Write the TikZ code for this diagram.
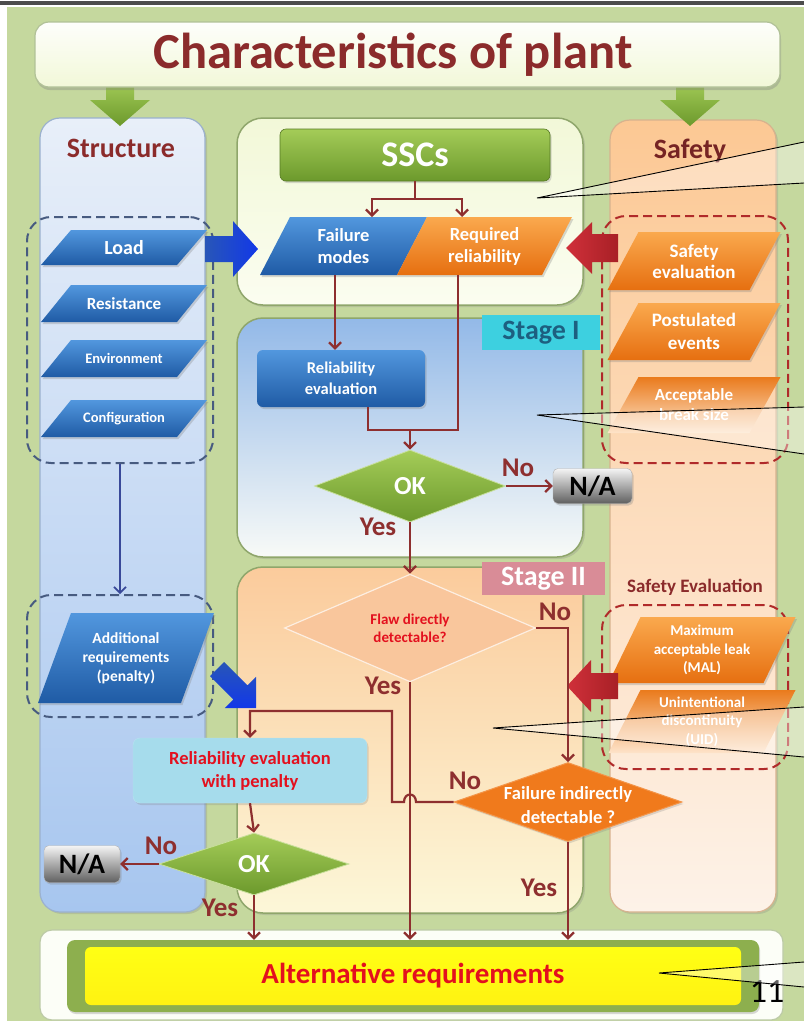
\documentclass[tikz,border=0pt]{standalone}
\usepackage{fontspec}
\setmainfont{Carlito}
\usetikzlibrary{shapes.geometric,arrows.meta,shadows,calc}

\newcommand\fsz[2]{\fontsize{#1}{#2}\selectfont}
% slanted box: name, cx, cy, half width, height, slant, fill style, font, text
\newcommand\slantnode[9]{%
  \path[#7] ({#2-#4+#6/2},{#3-#5/2}) -- ({#2+#4+#6/2},{#3-#5/2}) --
            ({#2+#4-#6/2},{#3+#5/2}) -- ({#2-#4-#6/2},{#3+#5/2}) -- cycle;
  \node[ptext, minimum height=#5pt, font=#8] (#1) at (#2,#3) {#9};}

\definecolor{bg}{HTML}{C5D89E}
\definecolor{cbrown}{HTML}{8E2F2F}
\definecolor{ttl}{HTML}{8B2B2B}
\definecolor{blueT}{HTML}{5297DE}
\definecolor{blueB}{HTML}{1F5BA5}
\definecolor{orT}{HTML}{FAA94E}
\definecolor{orB}{HTML}{E66F10}
\definecolor{grT}{HTML}{A4CC58}
\definecolor{grB}{HTML}{6C992C}
\definecolor{structT}{HTML}{E8EFF9}
\definecolor{structB}{HTML}{A7C6EF}
\definecolor{safeT}{HTML}{FCC894}
\definecolor{safeB}{HTML}{FDF2E8}
\definecolor{creamT}{HTML}{F2F8D8}
\definecolor{creamB}{HTML}{FBFDF0}
\definecolor{stIT}{HTML}{93B9E8}
\definecolor{stIB}{HTML}{F8FAF7}
\definecolor{stIIT}{HTML}{FBCB9C}
\definecolor{stIIB}{HTML}{FCF7D8}
\definecolor{boxedge}{HTML}{8FA66B}
\definecolor{bluedash}{HTML}{475B80}
\definecolor{reddash}{HTML}{B02A2A}
\definecolor{cyanlab}{HTML}{3DD0E0}
\definecolor{teal}{HTML}{1D5F80}
\definecolor{pinklab}{HTML}{D98C97}
\definecolor{bigblue}{HTML}{1238E8}
\definecolor{bigblueD}{HTML}{2856B8}
\definecolor{bigred}{HTML}{D0303A}
\definecolor{bigredD}{HTML}{A82026}
\definecolor{flawfill}{HTML}{F9C69C}
\definecolor{fidfill}{HTML}{F07A1C}
\definecolor{rpfill}{HTML}{A6DCEC}
\definecolor{redtxt}{HTML}{E3101E}
\definecolor{yell}{HTML}{FFFF14}
\definecolor{altgreen}{HTML}{8DAF4E}

\begin{document}
\begin{tikzpicture}[x=1pt,y=-1pt,
  conn/.style={draw=cbrown, line width=2.2pt},
  arr/.style={conn, -{Straight Barb[length=6pt,width=12pt]}},
  lbl/.style={text=cbrown, font=\fsz{27}{30}\bfseries, inner sep=0},
  ptext/.style={text=white, align=center, inner sep=0},
  column/.style={draw=#1, line width=1.2pt, rounded corners=20pt,
    drop shadow={opacity=.25, shadow xshift=2pt, shadow yshift=-2pt}},
  stagebox/.style={draw=boxedge, line width=1.5pt, rounded corners=26pt,
    drop shadow={opacity=.25, shadow xshift=2pt, shadow yshift=-2pt}},
  dashbox/.style={draw=#1, line width=2pt, dash pattern=on 9pt off 5pt,
    rounded corners=24pt},
  bluepar/.style={top color=blueT, bottom color=blueB,
    drop shadow={opacity=.3, shadow xshift=1.5pt, shadow yshift=-2pt}},
  orpar/.style={top color=orT, bottom color=orB,
    drop shadow={opacity=.3, shadow xshift=1.5pt, shadow yshift=-2pt}},
  fadepar/.style={top color=orB!80!orT, bottom color=safeT!50!white},
  okdia/.style={diamond, inner sep=0, top color=grT, bottom color=grB,
    draw=grT!60!white, line width=.8pt, text=white, font=\fsz{26}{28}\bfseries},
  nabox/.style={rounded corners=5pt, top color=white!92!gray, bottom color=gray!75!black,
    draw=gray!60, text=black, font=\fsz{28}{30}\bfseries,
    drop shadow={opacity=.3, shadow xshift=1.5pt, shadow yshift=-2pt}},
  callout/.style={draw=black, line width=.9pt},
  wedge/.style={fill=white, fill opacity=.38}
]
\useasboundingbox (0,0) rectangle (804,1023);

% page background
\fill[white] (0,0) rectangle (804,1023);
\fill[bg] (7,7) rectangle (804,1021);
\fill[gray!60!black] (0,1) rectangle (804,5);

% the three columns
\node[column=structB!70!gray, top color=structT, bottom color=structB,
      minimum width=165pt, minimum height=794pt] (structcol) at (122.5,515) {};
\node[column=safeT!70!gray, top color=safeT, bottom color=safeB,
      minimum width=166pt, minimum height=792pt] (safetycol) at (693,516) {};
\node[stagebox, top color=creamT, bottom color=creamB,
      minimum width=346pt, minimum height=187pt] (topbox) at (410,211.5) {};
\node[stagebox, top color=stIT, bottom color=stIB,
      minimum width=346pt, minimum height=239pt] (stageIbox) at (410,437.5) {};
\node[stagebox, top color=stIIT, bottom color=stIIB,
      minimum width=346pt, minimum height=346pt] (stageIIbox) at (410,740) {};

% green arrows below the title
\foreach \ax in {120,690}{
  \path[top color=grT, bottom color=grB]
    (\ax-14,80) -- (\ax+14,80) -- (\ax+14,100) -- (\ax+30,100) -- (\ax,126)
    -- (\ax-30,100) -- (\ax-14,100) -- cycle;
}

% title
\node[draw=boxedge!70!white, line width=1.2pt, rounded corners=14pt,
      top color=white!90!creamT, bottom color=creamT,
      drop shadow={opacity=.35, shadow xshift=1pt, shadow yshift=-3pt},
      minimum width=745pt, minimum height=65pt] (title) at (407.5,54.5) {};
\node[text=ttl, inner sep=0, font=\fsz{50.5}{53}\bfseries] (titletext) at (393,55)
      {Characteristics of plant};

% column headings
\node[text=ttl, font=\fsz{28}{30}\bfseries] (structt) at (121,148) {Structure};
\node[text=ttl!85!black, font=\fsz{28}{30}\bfseries] (safetyt) at (690,151) {Safety};

% dashed groups
\node[dashbox=bluedash, minimum width=186pt, minimum height=246pt] (sdash) at (120,340) {};
\node[dashbox=bluedash, minimum width=186pt, minimum height=122pt] (adash) at (120,656) {};
\node[dashbox=reddash, minimum width=186pt, minimum height=247pt] (rdash) at (695,339.5) {};
\node[dashbox=reddash, minimum width=186pt, minimum height=164pt] (rdash2) at (695,687) {};

% structure inputs
\slantnode{load}{124}{247.5}{68}{35}{30}{bluepar}{\fsz{20}{22}\bfseries}{Load}
\slantnode{resist}{124}{303.5}{68}{37}{30}{bluepar}{\fsz{17}{19}\bfseries}{Resistance}
\slantnode{envir}{124}{358.5}{68}{37}{30}{bluepar}{\fsz{14.5}{16}\bfseries}{Environment}
\slantnode{config}{124}{418.5}{68}{37}{30}{bluepar}{\fsz{14.5}{16}\bfseries}{Configuration}
\slantnode{addreq}{126}{658}{71.5}{90}{33}{bluepar}{\fsz{15.5}{19}\bfseries}{Additional\\requirements\\(penalty)}

% safety inputs
\slantnode{safeev}{694}{261}{71}{58}{31}{orpar}{\fsz{19}{21}\bfseries}{Safety\\evaluation}
\slantnode{postev}{694}{331.5}{71}{57}{31}{orpar}{\fsz{19}{23}\bfseries}{Postulated\\events}
\slantnode{abs}{694}{405}{71}{56}{31}{fadepar}{\fsz{17}{20}\bfseries}{Acceptable\\break size}
\slantnode{mal}{702}{650}{77.5}{66}{32}{orpar}{\fsz{15}{18.5}\bfseries}{Maximum\\acceptable leak\\(MAL)}
\slantnode{uid}{702}{721.5}{77.5}{63}{32}{fadepar}{\fsz{15}{18.5}\bfseries}{Unintentional\\discontinuity\\(UID)}
\node[text=ttl, font=\fsz{19}{21}\bfseries] (safeevt) at (695,587) {Safety Evaluation};

% SSCs and its two outputs
\node[rounded corners=6pt, top color=grT, bottom color=grB, draw=grB!80!black, line width=.6pt,
      minimum width=270pt, minimum height=52pt, text=white, font=\fsz{36}{38}\bfseries,
      drop shadow={opacity=.3, shadow xshift=1.5pt, shadow yshift=-2pt}] (ssc) at (415,155) {SSCs};
\slantnode{fm}{343.5}{246}{68.5}{58}{30}{bluepar}{\fsz{18.5}{22}\bfseries}{Failure\\modes}
\slantnode{rr}{484.5}{246}{72.5}{58}{30}{orpar}{\fsz{18.5}{22}\bfseries}{Required\\reliability}

% block arrows feeding the flow
\path[left color=bigblueD, right color=bigblue]
  (205,236) -- (233,236) -- (233,221) -- (258,249) -- (233,277) -- (233,262) -- (205,262) -- cycle;
\path[left color=bigred, right color=bigredD]
  (618,234) -- (592,234) -- (592,222) -- (566,248) -- (592,274) -- (592,262) -- (618,262) -- cycle;
\path[left color=bigred, right color=bigredD]
  (618,673) -- (591,673) -- (591,660) -- (567,686) -- (591,712) -- (591,699) -- (618,699) -- cycle;
\path[top color=bigblueD, bottom color=bigblue]
  (210,676.2) -- (224.2,662) -- (247.5,685.3) -- (256,676.8) -- (256,708)
  -- (224.8,708) -- (233.3,699.5) -- cycle;

% stage labels
\node[fill=cyanlab, minimum width=118pt, minimum height=35pt, text=teal,
      font=\fsz{28}{30}\bfseries] (stageI) at (541,332.5) {Stage I};
\node[fill=pinklab, minimum width=123pt, minimum height=33pt, text=white,
      font=\fsz{28}{30}\bfseries] (stageII) at (543.5,578.5) {Stage II};

% stage I
\node[rounded corners=6pt, top color=blueT, bottom color=blueB, minimum width=168pt,
      minimum height=57pt, text=white, align=center, font=\fsz{16.5}{21}\bfseries,
      drop shadow={opacity=.3, shadow xshift=1.5pt, shadow yshift=-2pt}] (releval) at (341,378.5)
      {Reliability\\evaluation};
\node[okdia, minimum width=191pt, minimum height=72pt] (ok1) at (410,486) {OK};
\node[nabox, minimum width=79pt, minimum height=35pt] (na1) at (592.5,486) {N/A};

% stage II
\node[diamond, inner sep=0, fill=flawfill, draw=white!70!flawfill, line width=1.2pt,
      minimum width=251pt, minimum height=90pt, text=redtxt, align=center,
      font=\fsz{15}{18}\bfseries] (flaw) at (410,628) {Flaw directly\\detectable?};
\node[diamond, inner sep=0, fill=fidfill, draw=fidfill!80!white, line width=1pt,
      minimum width=228pt, minimum height=79pt,
      drop shadow={opacity=.25, shadow xshift=1.5pt, shadow yshift=-2pt}] (fid) at (568,802) {};
\node[text=white, align=center, inner sep=0, font=\fsz{18.5}{24}\bfseries]
      (fidtext) at ([yshift=-3pt]fid.center) {Failure indirectly\\detectable ?};
\node[rounded corners=7pt, fill=rpfill, draw=rpfill!80!white, minimum width=234pt,
      minimum height=65pt, text=redtxt, align=center, font=\fsz{18.5}{23}\bfseries,
      drop shadow={opacity=.25, shadow xshift=1.5pt, shadow yshift=-2pt}] (rp) at (250,770.5)
      {Reliability evaluation\\with penalty};
\node[okdia, minimum width=190pt, minimum height=62pt] (ok2) at (254,864) {OK};
\node[nabox, minimum width=76pt, minimum height=37pt] (na2) at (82,864) {N/A};

% outcome
\node[rounded corners=12pt, fill=white!80!creamT, draw=boxedge!60!white, line width=1.2pt,
      minimum width=743pt, minimum height=90pt] (altout) at (411.5,975) {};
\node[rounded corners=8pt, fill=altgreen, minimum width=692pt, minimum height=72pt,
      drop shadow={opacity=.3, shadow xshift=1pt, shadow yshift=-2pt}] (altg) at (413,976) {};
\node[rounded corners=6pt, top color=yell, bottom color=yell!90!orange, minimum width=656pt,
      minimum height=58pt, text=redtxt, font=\fsz{29}{31}\bfseries] (alt) at (413,976)
      {Alternative requirements};
\node[text=black, font=\fsz{34}{36}] (pagenum) at (767,992) {11};

% connectors: top part
\coordinate (sj) at (415,199);
\coordinate (fmin) at (372,217);
\coordinate (rrin) at (462,217);
\draw[conn] (ssc.south) -- (sj);
\draw[arr] (sj) -| (fmin);
\draw[arr] (sj) -| (rrin);

% connectors: stage I
\coordinate (fmout) at (335,275);
\coordinate (rrout) at (458,275);
\coordinate (reout) at (368,407);
\coordinate (jn) at (410,430);
\draw[arr] (fmout) -- (fmout |- releval.north);
\draw[conn] (rrout) |- (jn);
\draw[conn] (reout) |- (jn);
\draw[arr] (jn) -- (ok1.north);
\draw[arr] (ok1.east) -- (na1.west);

% connectors: stage II
\coordinate (hopa) at (416,802);
\coordinate (hopb) at (404,802);
\coordinate (turn) at (392,711);
\draw[arr] (ok1.south) -- (flaw.north);
\draw[arr] (flaw.east) -| (fid.north);
\draw[arr] (flaw.south) -- (flaw.south |- altg.north);
\draw[arr] (fid.south) -- (fid.south |- altg.north);
\draw[arr] (fid.west) -- (hopa) .. controls +(0,-10) and +(0,-10) .. (hopb)
  -- (hopb -| turn) -- (turn) -| (rp.north);
\draw[arr] (rp.south) -- (ok2.north);
\draw[arr] (ok2.west) -- (na2.east);
\draw[arr] (ok2.south) -- (ok2.south |- altg.north);

% structure flow
\draw[draw=bluedash!80!blue, line width=1.6pt, -{Straight Barb[length=6pt,width=12pt]}]
  (sdash.south) -- (adash.north);

% decision labels
\node[lbl] (no1) at (518,468) {No};
\node[lbl] (yes1) at (378,527) {Yes};
\node[lbl] (no2) at (555,612) {No};
\node[lbl] (yes2) at (383,686) {Yes};
\node[lbl] (no3) at (465,781) {No};
\node[lbl] (yes3) at (539,888) {Yes};
\node[lbl] (no4) at (161,846) {No};
\node[lbl] (yes4) at (220,908) {Yes};

% callout wedges running off the right edge
\coordinate (k1) at (537,198);
\coordinate (k2) at (537,415);
\coordinate (k3) at (493,728);
\coordinate (k4) at (659,973);
\fill[wedge] (k1) -- (804,142) -- (804,183) -- cycle;
\draw[callout] (804,142) -- (k1) -- (804,183);
\fill[wedge] (k2) -- (804,407) -- (804,454) -- cycle;
\draw[callout] (804,407) -- (k2) -- (804,454);
\fill[wedge] (k3) -- (804,707) -- (804,757) -- cycle;
\draw[callout] (804,707) -- (k3) -- (804,757);
\fill[wedge] (k4) -- (804,962) -- (804,987) -- cycle;
\draw[callout] (804,962) -- (k4) -- (804,987);
\end{tikzpicture}
\end{document}
